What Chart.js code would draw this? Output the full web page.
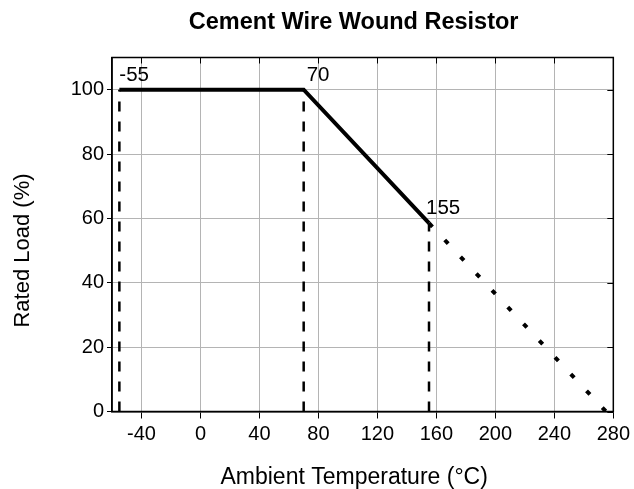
<!DOCTYPE html>
<html><head><meta charset="utf-8">
<script src="https://cdn.jsdelivr.net/npm/chart.js@4/dist/chart.umd.min.js"></script>
<style>html,body{margin:0;padding:0;background:#fff}#wrap{width:634px;height:489px}</style>
</head><body><div id="wrap"><canvas id="c" width="634" height="489"></canvas></div>
<script>
const chartTitle = 'Cement Wire Wound Resistor';
const xAxisTitle = 'Ambient Temperature (°C)';
const yAxisTitle = 'Rated Load (%)';
const breakTemps = [-55, 70, 155];
const breakLoads = [100, 100, 58.5];
const breakLabels = ['-55', '70', '155'];
const zeroLoadTemp = 275;
const xTickValues = [-40, 0, 40, 80, 120, 160, 200, 240, 280];
const yTickValues = [0, 20, 40, 60, 80, 100];

const FONT = 'Liberation Sans, Arial, sans-serif';
const labelDx = [0, 3, -3];
const solid = breakTemps.map((t, i) => ({x: t, y: breakLoads[i]}));
const dotted = [{x: breakTemps[2], y: breakLoads[2]}, {x: zeroLoadTemp, y: 0}];
const verticals = breakTemps.map((t, i) => ({
  data: [{x: t, y: 0}, {x: t, y: breakLoads[i]}],
  showLine: true, borderColor: '#000', borderWidth: 2.5, borderDash: [10, 10],
  borderCapStyle: 'butt', pointRadius: 0, fill: false
}));

const framePlugin = {
  id: 'frame',
  afterDraw(chart) {
    const {ctx, chartArea: a, scales: {x, y}} = chart;
    ctx.save();
    ctx.strokeStyle = '#000'; ctx.lineWidth = 1.5;
    ctx.strokeRect(a.left, a.top, a.right - a.left, a.bottom - a.top);
    ctx.lineWidth = 1;
    yTickValues.forEach(v => { const py = Math.round(y.getPixelForValue(v)) + 0.5;
      ctx.beginPath(); ctx.moveTo(a.right - 6, py); ctx.lineTo(a.right, py); ctx.stroke(); });
    xTickValues.forEach(v => { const px = Math.round(x.getPixelForValue(v)) + 0.5;
      ctx.beginPath(); ctx.moveTo(px, a.top); ctx.lineTo(px, a.top + 6); ctx.stroke(); });
    ctx.fillStyle = '#000';
    ctx.font = '20.5px ' + FONT;
    ctx.textAlign = 'left'; ctx.textBaseline = 'alphabetic';
    breakTemps.forEach((t, i) => {
      ctx.fillText(breakLabels[i], x.getPixelForValue(t) + labelDx[i], y.getPixelForValue(breakLoads[i]) - 9);
    });
    // titles
    const cx = (a.left + a.right) / 2 - 9;
    ctx.textAlign = 'center';
    ctx.font = 'bold 23.5px ' + FONT;
    ctx.fillText(chartTitle, cx, 29);
    ctx.font = '23px ' + FONT;
    ctx.fillText(xAxisTitle, cx + 0.5, 484);
    ctx.save();
    ctx.translate(28.5, (a.top + a.bottom) / 2 + 16);
    ctx.rotate(-Math.PI / 2);
    ctx.font = '22px ' + FONT;
    ctx.fillText(yAxisTitle, 0, 0);
    ctx.restore();
    ctx.restore();
  }
};

new Chart(document.getElementById('c'), {
  type: 'scatter',
  data: { datasets: [
    { data: solid, showLine: true, borderColor: '#000', borderWidth: 4, pointRadius: 0, fill: false },
    { data: dotted, showLine: true, borderColor: '#000', borderWidth: 4, borderDash: [5, 18], borderCapStyle: 'butt', pointRadius: 0, fill: false },
    ...verticals
  ]},
  options: {
    responsive: false, animation: false, devicePixelRatio: 1,
    layout: { padding: { left: 0, right: 19, top: 57.5, bottom: 0 } },
    plugins: { legend: { display: false }, tooltip: { enabled: false }, title: { display: false } },
    scales: {
      x: { type: 'linear', min: -60, max: 280,
        afterBuildTicks(s) { s.ticks = xTickValues.map(v => ({value: v})); },
        afterFit(s) { s.height = 77.5; },
        grid: { color: '#b4b4b4', tickColor: '#000', tickLength: 7 },
        border: { color: '#000', width: 1.5 },
        ticks: { color: '#000', font: { family: FONT, size: 20 }, padding: 4, maxRotation: 0 }
      },
      y: { type: 'linear', min: 0, max: 110,
        afterBuildTicks(s) { s.ticks = yTickValues.map(v => ({value: v})); },
        afterFit(s) { s.width = 112; },
        grid: { color: '#b4b4b4', tickColor: '#000', tickLength: 5 },
        border: { color: '#000', width: 1.5 },
        ticks: { color: '#000', font: { family: FONT, size: 20 }, padding: 3 }
      }
    }
  },
  plugins: [framePlugin]
});
</script></body></html>
